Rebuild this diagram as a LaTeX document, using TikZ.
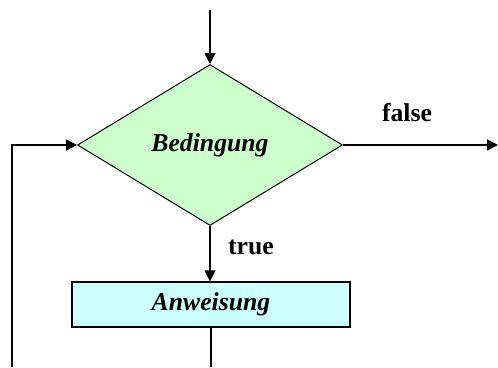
\documentclass[tikz,border=0pt]{standalone}
\usepackage{fontspec}
\setmainfont{Liberation Serif}
\usepackage{xcolor}
\usetikzlibrary{shapes.geometric, arrows.meta, positioning}
\definecolor{CondGreen}{HTML}{CCFFCC}
\definecolor{StmtCyan}{HTML}{CCFFFF}
\tikzset{
    % Condition diamond
    condition/.style={
        diamond,
        draw=black,
        fill=CondGreen,
        line width=1pt,
        inner sep=0pt,
        minimum width=265pt,
        minimum height=161pt,
        font=\fontsize{25.7}{30}\selectfont\bfseries\itshape
    },
    % Statement box
    statement/.style={
        rectangle,
        draw=black,
        fill=StmtCyan,
        line width=1.3pt,
        minimum width=278pt,
        minimum height=45pt,
        align=center,
        font=\fontsize{25.7}{30}\selectfont\bfseries\itshape
    },
    % Branch label
    branch/.style={
        font=\fontsize{25.7}{30}\selectfont\bfseries
    },
    % Arrow style
    arrow/.style={
        -{Triangle[length=11pt, width=11pt]},
        line width=1.5pt,
        color=black
    },
    % Plain line
    line/.style={
        line width=1.5pt,
        color=black
    }
}
\begin{document}
\begin{tikzpicture}[x=1pt, y=-1pt]
    \useasboundingbox (0,0) rectangle (498,367);
    % Loop nodes
    \node (cond) [condition] at (210,145) {Bedingung};
    \node (stmt) [statement] at (211,304.5) {Anweisung};
    \coordinate (entry) at (210,10);
    \coordinate (exit) at (498,145);
    \coordinate (back) at (12,367);
    \coordinate (down) at (stmt.south |- back);

    \draw [arrow] (entry) -- (cond.north);
    \draw [arrow] (cond.south) -- (cond.south |- stmt.north);
    \draw [arrow] (cond.east) -- (exit);
    \draw [line] (stmt.south -| down) -- (down);
    \draw [arrow] (back) |- (cond.west);

    % Branch labels
    \node (false) [branch] at (407,113) {false};
    \node (true) [branch] at (251,247) {true};
\end{tikzpicture}
\end{document}
